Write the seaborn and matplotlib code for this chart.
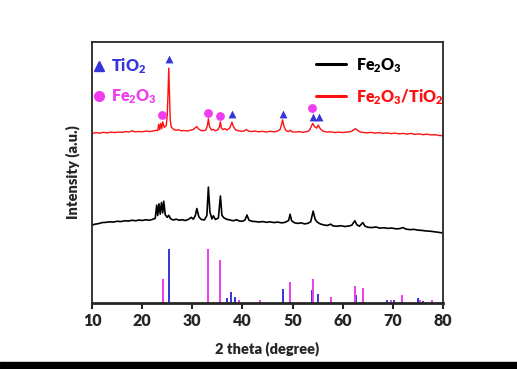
import matplotlib
matplotlib.use("Agg")
import matplotlib.pyplot as plt
from matplotlib.lines import Line2D
import numpy as np
import seaborn as sns

# XRD patterns (2 theta, intensity in arbitrary offset units)
red_theta = [10.0, 10.8, 11.5, 12.3, 13.0, 13.8, 14.5, 15.2, 16.0, 16.8, 17.4, 18.0, 18.5, 19.2, 20.0,
             20.8, 21.5, 22.2, 22.8, 23.1, 23.3, 23.5, 23.7, 23.9, 24.1, 24.4, 24.8, 25.0, 25.15, 25.3,
             25.45, 25.6, 25.8, 26.2, 26.7, 27.2, 27.8, 28.4, 29.0, 29.6, 30.2, 30.6, 30.9, 31.2, 31.7,
             32.2, 32.7, 33.0, 33.2, 33.4, 33.8, 34.2, 34.6, 35.1, 35.4, 35.6, 35.8, 36.2, 36.5, 36.9,
             37.4, 37.7, 37.9, 38.2, 38.6, 39.2, 39.8, 40.4, 40.8, 41.2, 41.8, 42.5, 43.2, 44.0, 44.8,
             45.5, 46.3, 47.0, 47.5, 47.8, 48.0, 48.3, 48.7, 49.2, 49.5, 49.9, 50.6, 51.3, 52.0, 52.7,
             53.3, 53.7, 54.0, 54.4, 54.8, 55.1, 55.5, 56.0, 56.8, 57.6, 58.4, 59.2, 60.0, 60.8, 61.5,
             62.0, 62.5, 62.9, 63.4, 64.0, 64.8, 65.6, 66.4, 67.2, 68.0, 68.8, 69.6, 70.4, 71.2, 72.0,
             72.8, 73.6, 74.4, 75.2, 76.0, 76.8, 77.6, 78.4, 79.2, 80.0]
red_int = [65.0, 65.3, 65.1, 65.4, 65.2, 65.5, 65.3, 65.5, 65.4, 65.7, 65.5, 66.0, 65.6, 65.7, 65.6,
           65.9, 65.7, 65.9, 66.2, 66.0, 68.5, 66.4, 68.8, 66.8, 69.4, 67.3, 68.0, 72.0, 80.0, 90.0,
           80.0, 70.0, 67.5, 66.6, 66.2, 66.4, 66.0, 66.1, 65.9, 66.2, 66.5, 67.2, 67.6, 66.8, 66.1,
           66.0, 66.3, 68.0, 70.6, 67.8, 66.3, 66.5, 66.0, 66.4, 67.5, 69.4, 67.0, 66.4, 66.8, 66.3,
           66.9, 68.2, 69.3, 67.5, 66.4, 66.0, 65.8, 66.0, 66.5, 65.9, 65.7, 65.9, 65.6, 65.8, 65.5,
           65.8, 65.6, 65.9, 66.5, 68.5, 70.2, 67.5, 66.0, 65.7, 66.2, 65.6, 65.5, 65.7, 65.4, 65.6,
           66.0, 67.5, 68.8, 67.6, 67.0, 68.2, 66.8, 65.9, 65.5, 65.6, 65.3, 65.5, 65.3, 65.5, 65.6,
           66.1, 66.8, 66.3, 65.6, 65.4, 65.2, 65.4, 65.1, 65.3, 65.0, 65.2, 64.9, 65.1, 64.8, 65.0,
           64.7, 65.0, 64.6, 64.8, 64.5, 64.7, 64.4, 64.5, 64.2, 64.1]

black_theta = [10.0, 10.6, 11.3, 12.0, 12.8, 13.5, 14.2, 15.0, 15.8, 16.5, 17.3, 18.0, 18.7, 19.4, 20.0,
               20.7, 21.4, 22.0, 22.6, 22.9, 23.1, 23.35, 23.6, 23.85, 24.1, 24.3, 24.6, 25.0, 25.3, 25.7,
               26.2, 26.8, 27.4, 28.0, 28.6, 29.2, 29.8, 30.2, 30.6, 30.9, 31.3, 31.8, 32.4, 32.9, 33.2,
               33.5, 33.9, 34.2, 34.6, 35.2, 35.6, 35.9, 36.3, 36.8, 37.5, 38.2, 38.8, 39.4, 40.0, 40.5,
               40.9, 41.3, 41.9, 42.6, 43.3, 44.0, 44.8, 45.5, 46.3, 47.0, 47.8, 48.5, 49.2, 49.5, 49.8,
               50.4, 51.0, 51.7, 52.4, 53.0, 53.6, 54.1, 54.5, 54.9, 55.5, 56.2, 56.9, 57.6, 58.1, 58.8,
               59.6, 60.4, 61.2, 61.8, 62.4, 62.8, 63.3, 64.0, 64.4, 65.0, 65.8, 66.6, 67.4, 68.2, 69.0,
               69.8, 70.6, 71.4, 72.0, 72.6, 73.4, 74.2, 75.0, 75.8, 76.6, 77.4, 78.2, 79.0, 80.0]
black_int = [29.8, 30.2, 30.4, 30.8, 30.9, 31.1, 31.0, 31.3, 31.2, 31.5, 31.4, 31.7, 31.5, 31.8, 31.6,
             31.9, 31.7, 32.0, 32.4, 37.5, 33.5, 38.0, 34.0, 38.5, 34.5, 39.0, 33.8, 32.8, 33.6, 32.2,
             31.8, 32.1, 31.7, 31.9, 31.6, 32.0, 32.8, 32.1, 33.5, 36.2, 33.0, 32.0, 31.8, 33.5, 44.4,
             35.0, 32.2, 33.4, 32.0, 32.6, 41.0, 33.6, 32.6, 32.1, 31.8, 31.5, 31.9, 31.4, 31.3, 31.8,
             33.7, 31.7, 31.3, 31.2, 31.0, 31.2, 30.9, 31.1, 30.8, 31.0, 30.7, 30.9, 31.6, 34.0, 31.5,
             30.7, 30.5, 30.7, 30.3, 30.5, 31.1, 35.2, 32.0, 31.0, 30.3, 29.9, 29.7, 30.2, 29.5, 29.4,
             29.6, 29.3, 29.5, 29.8, 31.5, 30.0, 29.4, 30.8, 29.5, 29.0, 28.9, 29.1, 28.7, 28.8, 28.6,
             28.7, 28.4, 28.5, 28.9, 28.3, 28.1, 28.2, 27.9, 27.8, 27.6, 27.5, 27.3, 27.1, 26.8]

# reference cards (sticks)
tio2_ref_theta = [25.3, 37.0, 37.8, 38.6, 48.0, 53.9, 55.1, 62.7, 68.8, 70.3, 75.0, 76.0]
tio2_ref_int = [20.7, 2.0, 4.2, 2.4, 5.4, 5.0, 3.5, 3.0, 1.0, 1.2, 2.0, 0.8]
fe2o3_ref_theta = [24.1, 33.2, 35.6, 39.3, 43.5, 49.4, 54.1, 57.6, 62.4, 64.0, 69.6, 71.9, 75.4, 77.7]
fe2o3_ref_int = [9.2, 20.7, 16.5, 1.0, 1.0, 8.0, 9.0, 2.4, 6.4, 5.6, 1.0, 3.0, 1.2, 1.0]

# peak markers on the composite pattern
tio2_mark_theta = [25.3, 37.9, 48.0, 54.0, 55.2]
tio2_mark_y = [93.5, 72.4, 72.4, 71.3, 71.3]
fe2o3_mark_theta = [24.0, 33.2, 35.6, 53.9]
fe2o3_mark_y = [72.0, 72.8, 71.6, 74.7]

xticks = [10, 20, 30, 40, 50, 60, 70, 80]

BLUE = "#3535dc"
MAGENTA = "#f03cf0"
RED = "#ff1010"

sns.set_style("ticks")
plt.rcParams["font.family"] = ["Lato", "DejaVu Sans"]
plt.rcParams["font.weight"] = 800
plt.rcParams["mathtext.fontset"] = "custom"
plt.rcParams["mathtext.rm"] = "Lato:heavy"
plt.rcParams["mathtext.bf"] = "Lato:heavy"
plt.rcParams["mathtext.default"] = "bf"

fig = plt.figure(figsize=(5.17, 3.69), dpi=100)
ax = fig.add_axes([0.178, 0.179, 0.679, 0.707])

sns.lineplot(x=black_theta, y=black_int, color="black", lw=1.2, ax=ax, sort=False)
sns.lineplot(x=red_theta, y=red_int, color=RED, lw=1.0, ax=ax, sort=False)
ax.vlines(tio2_ref_theta, 0, tio2_ref_int, color=BLUE, lw=1.4)
ax.vlines(fe2o3_ref_theta, 0, fe2o3_ref_int, color=MAGENTA, lw=1.4)
ax.scatter(tio2_mark_theta, tio2_mark_y, marker="^", s=32, color=BLUE, zorder=5, linewidths=0)
ax.scatter(fe2o3_mark_theta, fe2o3_mark_y, marker="o", s=40, color=MAGENTA, zorder=5, linewidths=0)

ax.set_xlim(10, 80)
ax.set_ylim(0, 100)
ax.set_xticks(xticks)
ax.set_yticks([])
ax.tick_params(axis="x", direction="out", length=4, width=1.5, labelsize=11.5, pad=3)
for lab in ax.get_xticklabels():
    lab.set_fontweight(800)
for s in ["top", "right", "left"]:
    ax.spines[s].set_linewidth(1.3)
ax.spines["bottom"].set_linewidth(2)
ax.set_xlabel("2 theta (degree)", fontsize=10.5, fontweight=800, labelpad=9)
ax.set_ylabel("Intensity (a.u.)", fontsize=10.5, fontweight=800, labelpad=9)

# phase legend (markers)
h1 = [Line2D([], [], marker="^", color=BLUE, ls="none", ms=6.5),
      Line2D([], [], marker="o", color=MAGENTA, ls="none", ms=7)]
leg1 = ax.legend(h1, ["TiO$_2$", "Fe$_2$O$_3$"], loc="upper left", bbox_to_anchor=(0.0, 0.945),
                 frameon=False, fontsize=11.5, handlelength=0.9, handletextpad=0.3,
                 labelspacing=0.72, borderpad=0, borderaxespad=0, labelcolor=[BLUE, MAGENTA])
ax.add_artist(leg1)

# pattern legend (lines)
h2 = [Line2D([], [], color="black", lw=2.2), Line2D([], [], color=RED, lw=2.2)]
ax.legend(h2, ["Fe$_2$O$_3$", "Fe$_2$O$_3$/TiO$_2$"], loc="upper left", bbox_to_anchor=(0.638, 0.947),
          frameon=False, fontsize=11.5, handlelength=1.9, handletextpad=0.6,
          labelspacing=0.78, borderpad=0, borderaxespad=0, labelcolor=["black", RED])

# black band at the bottom of the image
fig.patches.append(plt.Rectangle((0, 0), 1, 7 / 369, transform=fig.transFigure, color="black", zorder=10))

fig.savefig("out.png", dpi=100)
